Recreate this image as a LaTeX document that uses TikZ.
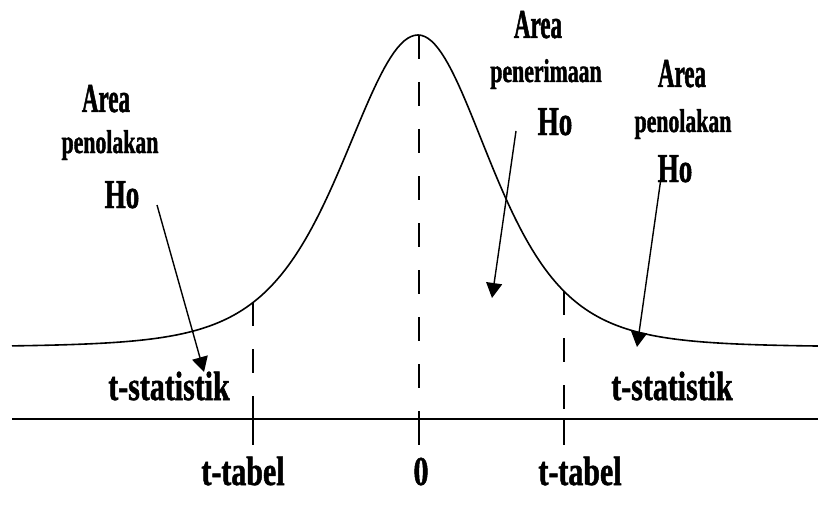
\documentclass[tikz,border=0pt]{standalone}
\usepackage{fontspec}
\setmainfont{Liberation Serif}
\newfontfamily\labfont[FakeStretch=0.66,FakeBold=1.2]{Liberation Serif}
\newfontfamily\areafont[FakeStretch=0.56,FakeBold=1.2]{Liberation Serif}
\newfontfamily\axfont[FakeStretch=0.73,FakeBold=1.2]{Liberation Serif}
\usetikzlibrary{arrows.meta}
\tikzset{curve/.style={line width=1.6pt},
  axisline/.style={line width=1.4pt},
  cut/.style={line width=1.4pt,dash pattern=on 24pt off 23pt},
  tick/.style={line width=1.4pt},
  pointer/.style={line width=1.4pt,-{Triangle[length=15pt,width=16pt]}},
  arealbl/.style={anchor=base,inner sep=0pt,font=\areafont\bfseries\fontsize{41}{45}\selectfont},
  smalllbl/.style={anchor=base,inner sep=0pt,font=\labfont\bfseries\fontsize{33}{37}\selectfont},
  holbl/.style={anchor=base,inner sep=0pt,font=\labfont\bfseries\fontsize{41}{45}\selectfont},
  axlbl/.style={anchor=base,inner sep=0pt,font=\axfont\bfseries\fontsize{41}{45}\selectfont}}

\begin{document}
\begin{tikzpicture}[x=1pt,y=1pt]
\useasboundingbox (0,0) rectangle (818,507);
% density curve, t with 5 df
\draw[curve] plot[domain=12:418,samples=120] (\x,{160+312/(1+((\x-418)/172.6)^2)^3})
  -- plot[domain=418:818,samples=120] (\x,{160+312/(1+((\x-418)/165.8)^2)^3});
\draw[axisline] (12,88)--(818,88);
% critical values
\coordinate (tl) at (253,{160+312/(1+(165/172.6)^2)^3});
\coordinate (tm) at (419,472);
\coordinate (tr) at (564,{160+312/(1+(146/165.8)^2)^3});
\foreach \c in {tl,tm,tr}{
  \draw[cut] (\c)--(\c|-0,88);
  \draw[tick] (\c|-0,88)--(\c|-0,62);}
\node[axlbl] (tabL) at (243,22) {t-tabel};
\node[axlbl] (zero) at (421,22) {0};
\node[axlbl] (tabR) at (580,22) {t-tabel};
\node[axlbl] (statL) at (169,107) {t-statistik};
\node[axlbl] (statR) at (672,107) {t-statistik};
% left region
\node[arealbl] (areaL) at (106,395) {Area};
\node[smalllbl] (tolakL) at (110,354) {penolakan};
\node[holbl] (hoL) at (122,299) {Ho};
% middle region
\node[arealbl] (areaM) at (538,469) {Area};
\node[smalllbl] (terimaM) at (546,425) {penerimaan};
\node[holbl] (hoM) at (555,372) {Ho};
% right region
\node[arealbl] (areaR) at (682,420) {Area};
\node[smalllbl] (tolakR) at (683,375) {penolakan};
\node[holbl] (hoR) at (675,325) {Ho};
\coordinate (pL) at (157,302);\coordinate (qL) at (204,135);
\coordinate (pM) at (516,376);\coordinate (qM) at (492,209);
\coordinate (pR) at (661,329);\coordinate (qR) at (637,160);
\draw[pointer] (pL)--(qL);
\draw[pointer] (pM)--(qM);
\draw[pointer] (pR)--(qR);
\end{tikzpicture}
\end{document}
